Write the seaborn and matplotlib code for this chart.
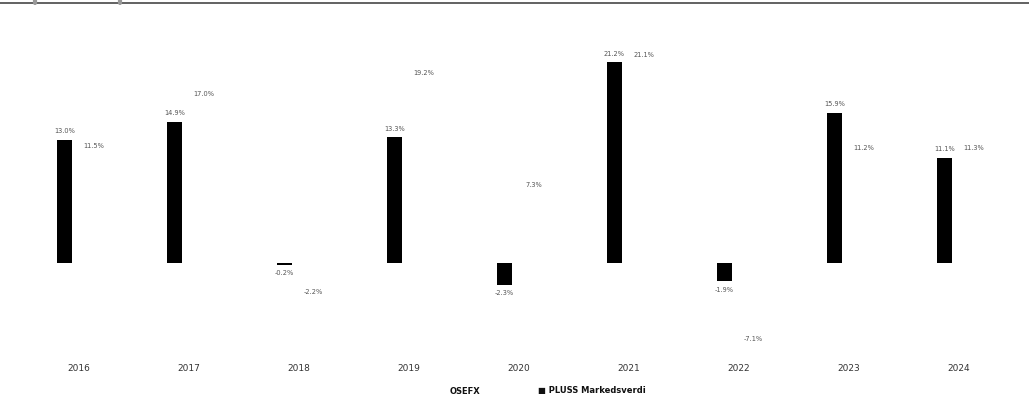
import matplotlib
matplotlib.use("Agg")
import matplotlib.pyplot as plt
from matplotlib.lines import Line2D
import seaborn as sns
import pandas as pd

years = ["2016", "2017", "2018", "2019", "2020", "2021", "2022", "2023", "2024"]
pluss = [13.0, 14.9, -0.2, 13.3, -2.3, 21.2, -1.9, 15.9, 11.1]
osefx = [11.5, 17.0, -2.2, 19.2, 7.3, 21.1, -7.1, 11.2, 11.3]
series = ["PLUSS Markedsverdi", "OSEFX"]

df = pd.DataFrame({
    "year": years * 2,
    "value": pluss + osefx,
    "series": [series[0]] * len(years) + [series[1]] * len(years),
})

sns.set_theme(style="white")
plt.rcParams["font.family"] = ["DejaVu Sans"]

W, H = 1029, 396
fig = plt.figure(figsize=(W / 100, H / 100), dpi=100)
top_px, bot_px = 30, 350
ax = fig.add_axes([24 / W, 1 - bot_px / H, 990 / W, (bot_px - top_px) / H])

sns.barplot(data=df, x="year", y="value", hue="series", hue_order=series,
            palette={series[0]: "black", series[1]: "white"},
            width=0.53, gap=0.47, ax=ax, legend=False, saturation=1,
            linewidth=0)

zero_px = 263
scale = 9.46
ax.set_ylim(-(bot_px - zero_px) / scale, (zero_px - top_px) / scale)
ax.set_xlim(-0.5, 8.5)

for cont in ax.containers:
    ax.bar_label(cont, fmt="%.1f%%", padding=4, fontsize=4.8, color="#555555")

ax.set_xlabel("")
ax.set_ylabel("")
ax.set_yticks([])
ax.tick_params(axis="x", length=0, pad=10, labelsize=6.5, labelcolor="#333333")
sns.despine(ax=ax, left=True, bottom=True)

# top rule
fig.add_artist(Line2D([0, 1], [1 - 3 / H, 1 - 3 / H], color="#555555", lw=1.3))
for xs in (35, 120):
    fig.add_artist(Line2D([xs / W, xs / W], [1, 1 - 3 / H], color="#999999", lw=3))

# legend
fig.text(465 / W, 1 - 391 / H, "OSEFX", ha="center", va="center",
         fontsize=6, fontweight="bold", color="#111111")
fig.text(538 / W, 1 - 391 / H, "\u25A0 PLUSS Markedsverdi", ha="left", va="center",
         fontsize=6, fontweight="bold", color="#111111")

fig.savefig("out.png", dpi=100)
